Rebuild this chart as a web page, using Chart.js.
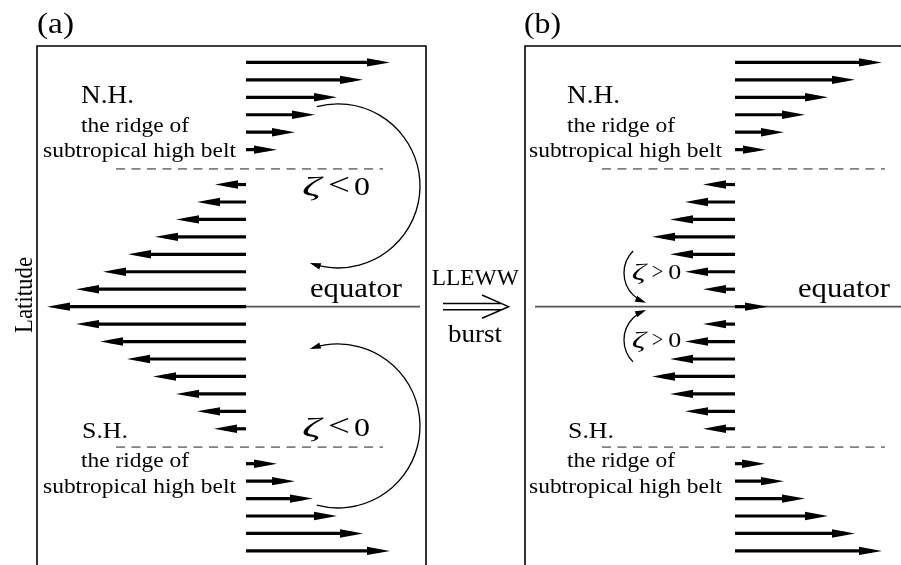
<!DOCTYPE html>
<html>
<head>
<meta charset="utf-8">
<script src="https://cdn.jsdelivr.net/npm/chart.js@4.4.1/dist/chart.umd.min.js"></script>
<style>
  body { margin: 0; background: #fff; }
  #wrap { position: relative; width: 901px; height: 565px; overflow: hidden; }
  #chartA { position: absolute; left: 0; top: 0; }
  #chartB { position: absolute; left: 428px; top: 0; }
</style>
</head>
<body>
<div id="wrap">
  <canvas id="chartA" width="428" height="565"></canvas>
  <canvas id="chartB" width="473" height="565"></canvas>
</div>
<script>
// latitude of every wind arrow, north to south (0 = equator)
const latitudes = [14, 13, 12, 11, 10, 9, 7, 6, 5, 4, 3, 2, 1, 0, -1, -2, -3, -4, -5, -6, -7, -9, -10, -11, -12, -13, -14];
// zonal wind (relative units, + westerly / - easterly)
const windA = [14.4, 11.7, 9.1, 6.9, 4.9, 3.1, -3.1, -4.9, -7.0, -9.1, -11.8, -14.3, -17.0, -19.9, -17.0, -14.6, -11.9, -9.3, -7.0, -4.9, -3.2, 3.1, 4.9, 6.7, 9.1, 11.7, 14.4];
const windB = [14.7, 12.0, 9.3, 7.0, 4.9, 3.1, -3.2, -5.0, -6.5, -8.3, -6.5, -5.0, -3.2, 3.3, -3.2, -5.0, -6.5, -8.3, -6.5, -5.0, -3.2, 3.0, 4.9, 7.0, 9.3, 12.0, 14.7];
// latitude of the subtropical high ridge (N.H., S.H.)
const ridgeLats = [7.9, -8.05];
// extent of ridge line and equator line in each panel
const ridgeSpanA = [-13.0, 13.7];
const ridgeSpanB = [-13.3, 15.0];
const equatorSpanA = [0, 17.4];
const equatorSpanB = [-20.0, 17.0];

const FONT = "'Liberation Serif', 'Times New Roman', serif";

function buildDatasets(wind, ridgeSpan, eqSpan) {
  const sets = latitudes.map((lat, i) => ({
    arrow: true,
    data: [{ x: 0, y: lat }, { x: wind[i], y: lat }],
    borderColor: '#000',
    borderWidth: 3.2,
    borderCapStyle: 'butt',
    pointRadius: 0,
    showLine: true,
    clip: false,
    order: 0
  }));
  ridgeLats.forEach(lat => sets.push({
    data: [{ x: ridgeSpan[0], y: lat }, { x: ridgeSpan[1], y: lat }],
    borderColor: '#808080', borderWidth: 1.6, borderDash: [9, 6.5],
    pointRadius: 0, showLine: true, clip: false, order: 1
  }));
  sets.push({
    data: [{ x: eqSpan[0], y: 0 }, { x: eqSpan[1], y: 0 }],
    borderColor: '#555', borderWidth: 1.7,
    pointRadius: 0, showLine: true, clip: false, order: 1
  });
  return sets;
}

function head(ctx, x, y, dx, dy, len, half) {
  const bx = x - dx * len, by = y - dy * len;
  ctx.beginPath();
  ctx.moveTo(x, y);
  ctx.lineTo(bx - dy * half, by + dx * half);
  ctx.lineTo(bx + dy * half, by - dx * half);
  ctx.closePath();
  ctx.fill();
}

// text squeezed/stretched to the width it has in the figure
function stretchText(ctx, text, x, y, size, w, italic) {
  ctx.font = (italic ? 'italic ' : '') + size + 'px ' + FONT;
  const m = ctx.measureText(text).width;
  ctx.save();
  ctx.translate(x, y);
  ctx.scale(w / m, 1);
  ctx.fillText(text, 0, 0);
  ctx.restore();
}

const schematic = {
  id: 'schematic',
  beforeDatasetsDraw(chart) {
    const xs = chart.scales.x;
    chart.data.datasets.forEach((ds, i) => {
      if (!ds.arrow) return;
      const u = ds.data[1].x;
      const tip = chart.getDatasetMeta(i).data[1];
      // pull the shaft back under the arrow head
      tip.x = xs.getPixelForValue(u) - Math.sign(u) * 10;
    });
  },
  afterDatasetsDraw(chart, args, opts) {
    const { ctx, chartArea: ca, scales: { x: xs, y: ys } } = chart;
    ctx.save();
    ctx.fillStyle = '#000';
    // arrow heads
    chart.data.datasets.forEach(ds => {
      if (!ds.arrow) return;
      const p = ds.data[1];
      head(ctx, xs.getPixelForValue(p.x), ys.getPixelForValue(p.y), Math.sign(p.x), 0, 23, 4.2);
    });
    // frame
    ctx.strokeStyle = '#000';
    ctx.lineWidth = 1.6;
    ctx.beginPath();
    if (opts.open) {
      ctx.moveTo(ca.left, chart.height + 2);
      ctx.lineTo(ca.left, ca.top);
      ctx.lineTo(chart.width + 2, ca.top);
    } else {
      ctx.moveTo(ca.left, chart.height + 2);
      ctx.lineTo(ca.left, ca.top);
      ctx.lineTo(ca.right, ca.top);
      ctx.lineTo(ca.right, chart.height + 2);
    }
    ctx.stroke();
    // vorticity circulations
    ctx.lineWidth = 1.3;
    opts.curls.forEach(c => {
      const cx = xs.getPixelForValue(c.x), cy = ys.getPixelForValue(c.y);
      const a0 = c.a0 * Math.PI / 180, a1 = c.a1 * Math.PI / 180;
      ctx.beginPath();
      ctx.arc(cx, cy, c.r, a0, a1, c.ccw);
      ctx.stroke();
      const ex = cx + c.r * Math.cos(a1), ey = cy + c.r * Math.sin(a1);
      const dx = c.ccw ? Math.sin(a1) : -Math.sin(a1);
      const dy = c.ccw ? -Math.cos(a1) : Math.cos(a1);
      head(ctx, ex + dx * 3, ey + dy * 3, dx, dy, 11, 3.2);
    });
    // text
    ctx.textBaseline = 'alphabetic';
    ctx.textAlign = 'left';
    opts.labels.forEach(l => {
      const px = xs.getPixelForValue(l.x), py = ys.getPixelForValue(l.y);
      if (l.zeta) {
        const z = l.zeta;
        stretchText(ctx, 'ζ', px, py, z[0], z[1], true);
        stretchText(ctx, l.op, px + z[2], py, z[3], z[4]);
        stretchText(ctx, '0', px + z[5], py, z[6], z[7]);
      } else {
        stretchText(ctx, l.t, px, py, l.size, l.w);
      }
    });
    if (opts.yTitle) {
      // rotated latitude label, left of the frame
      ctx.save();
      ctx.translate(31.5, 295);
      ctx.rotate(-Math.PI / 2);
      ctx.textAlign = 'center';
      ctx.font = '26px ' + FONT;
      const m = ctx.measureText(opts.yTitle).width;
      ctx.scale(76 / m, 1);
      ctx.fillText(opts.yTitle, 0, 0);
      ctx.restore();
    }
    if (opts.transition) {
      // LLEWW burst double arrow
      const y0 = ys.getPixelForValue(0);
      const x0 = xs.getPixelForValue(-29.2), x1 = xs.getPixelForValue(-22.64);
      ctx.lineWidth = 1.5;
      ctx.beginPath();
      ctx.moveTo(x0, y0 - 3.2); ctx.lineTo(x1 - 7, y0 - 3.2);
      ctx.moveTo(x0, y0 + 3.2); ctx.lineTo(x1 - 7, y0 + 3.2);
      ctx.moveTo(x1 - 26.6, y0 - 11.7); ctx.lineTo(x1, y0); ctx.lineTo(x1 - 26.6, y0 + 11.6);
      ctx.stroke();
    }
    ctx.restore();
  }
};

const yRange = { min: -13.89, max: 14.94 };

const panelLabels = (tag, xTag, xNH, xSub, xEq) => [
  { t: tag, x: xTag, y: 15.71, size: 30, w: 37 },
  { t: 'N.H.', x: xNH, y: 11.67, size: 24.5, w: 53 },
  { t: 'the ridge of', x: xNH, y: 10.01, size: 21.5, w: 108 },
  { t: 'subtropical high belt', x: xSub, y: 8.58, size: 21.5, w: 193 },
  { t: 'equator', x: xEq, y: 0.56, size: 28, w: 92 },
  { t: 'S.H.', x: xNH + 0.1, y: -7.52, size: 24, w: 46 },
  { t: 'the ridge of', x: xNH, y: -9.17, size: 21.5, w: 108 },
  { t: 'subtropical high belt', x: xSub, y: -10.68, size: 21.5, w: 193 }
];

// [zeta size, zeta width, op offset, op size, op width, 0 offset, 0 size, 0 width]
const zetaBig = [27, 19, 26, 31, 22, 52, 25, 16];
const zetaSmall = [23, 14, 20, 23, 11.5, 36.5, 22, 13];

new Chart(document.getElementById('chartA'), {
  type: 'scatter',
  data: { datasets: buildDatasets(windA, ridgeSpanA, equatorSpanA) },
  options: {
    responsive: false,
    animation: false,
    events: [],
    layout: { padding: { left: 37, top: 46, right: 2, bottom: 16 } },
    plugins: {
      legend: { display: false },
      tooltip: { enabled: false },
      schematic: {
        yTitle: 'Latitude',
        curls: [
          { x: 9.2, y: 6.92, r: 82, a0: -105, a1: 108, ccw: false },
          { x: 9.2, y: -6.84, r: 82, a0: 105, a1: -108, ccw: true }
        ],
        labels: panelLabels('(a)', -20.9, -16.5, -20.3, 6.4).concat([
          { zeta: zetaBig, op: '<', x: 5.6, y: 6.4 },
          { zeta: zetaBig, op: '<', x: 5.6, y: -7.41 }
        ])
      }
    },
    scales: {
      x: { type: 'linear', min: -20.9, max: 18.0, display: false },
      y: { type: 'linear', min: yRange.min, max: yRange.max, display: false }
    }
  },
  plugins: [schematic]
});

new Chart(document.getElementById('chartB'), {
  type: 'scatter',
  data: { datasets: buildDatasets(windB, ridgeSpanB, equatorSpanB) },
  options: {
    responsive: false,
    animation: false,
    events: [],
    layout: { padding: { left: 97, top: 46, right: 0, bottom: 16 } },
    plugins: {
      legend: { display: false },
      tooltip: { enabled: false },
      schematic: {
        open: true,
        transition: true,
        curls: [
          { x: -8.0, y: 1.93, r: 31, a0: 225, a1: 112, ccw: true },
          { x: -8.0, y: -1.91, r: 31, a0: 135, a1: 248, ccw: false }
        ],
        labels: panelLabels('(b)', -21.1, -16.8, -20.6, 6.3).concat([
          { zeta: zetaSmall, op: '>', x: -10.33, y: 1.58 },
          { zeta: zetaSmall, op: '>', x: -10.33, y: -2.33 },
          { t: 'LLEWW', x: -30.33, y: 1.24, size: 23, w: 87 },
          { t: 'burst', x: -28.7, y: -2.02, size: 24.5, w: 54 }
        ])
      }
    },
    scales: {
      x: { type: 'linear', min: -21.0, max: 16.6, display: false },
      y: { type: 'linear', min: yRange.min, max: yRange.max, display: false }
    }
  },
  plugins: [schematic]
});
</script>
</body>
</html>
